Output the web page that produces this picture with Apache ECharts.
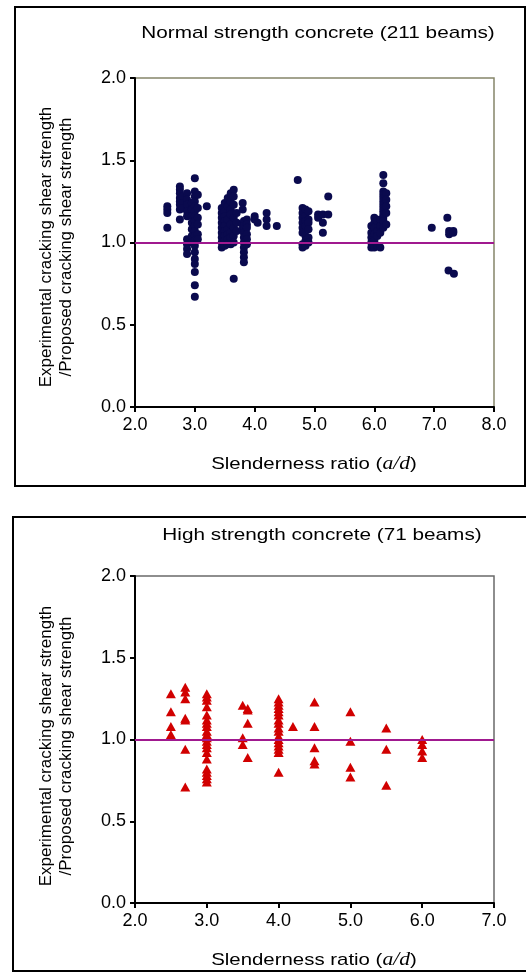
<!DOCTYPE html>
<html>
<head>
<meta charset="utf-8">
<script src="https://cdn.jsdelivr.net/npm/echarts@6/dist/echarts.min.js"></script>
<style>
  html, body { margin: 0; padding: 0; background: #fff; }
  #chart { width: 526px; height: 973px; }
</style>
</head>
<body>
<div id="chart"></div>
<script>
// 普通强度混凝土 (211 beams): a/d 位置 和 每列的比值
var normalRatio = [2.54, 2.75, 2.8, 2.87, 2.95, 3.0, 3.05, 3.2, 3.45, 3.5, 3.55, 3.6, 3.65, 3.7,
  3.8, 3.82, 3.87, 4.0, 4.05, 4.2, 4.37, 4.72, 4.8, 4.85, 4.9, 5.06, 5.14, 5.23,
  5.95, 6.0, 6.05, 6.1, 6.15, 6.2, 6.96, 7.22, 7.25, 7.32, 7.24, 7.33];
var normalValues = [
  [1.22, 1.20, 1.18, 1.09],
  [1.34, 1.32, 1.30, 1.27, 1.25, 1.23, 1.20, 1.14],
  [1.28, 1.24, 1.21],
  [1.30, 1.26, 1.23, 1.19, 1.16, 1.02, 0.99, 0.96, 0.93],
  [1.24, 1.20, 1.16, 1.12, 1.08, 1.04, 1.00],
  [1.39, 1.31, 1.28, 1.25, 1.22, 1.19, 1.16, 1.13, 1.10, 1.07, 1.04, 1.01, 0.98, 0.94, 0.90, 0.87, 0.82, 0.74, 0.67],
  [1.29, 1.21, 1.15, 1.11, 1.05, 1.02],
  [1.22],
  [1.21, 1.18, 1.15, 1.12, 1.09, 1.06, 1.03, 1.00, 0.97],
  [1.24, 1.19, 1.16, 1.13, 1.10, 1.07, 1.04, 1.01, 0.98],
  [1.27, 1.22, 1.14, 1.08, 1.05, 1.02, 0.99],
  [1.30, 1.25, 1.20, 1.17, 1.11, 1.06, 1.03, 0.99],
  [1.32, 1.28, 1.23, 1.15, 1.09, 1.04, 1.00, 0.78],
  [1.18, 1.12, 1.07],
  [1.24, 1.20, 1.11, 1.08],
  [1.13, 1.10, 1.06, 1.03, 1.00, 0.97, 0.94, 0.91, 0.88],
  [1.14, 1.11, 1.09, 1.05, 1.02, 0.99],
  [1.16, 1.14],
  [1.12],
  [1.18, 1.14, 1.10],
  [1.10],
  [1.38],
  [1.21, 1.18, 1.15, 1.12, 1.09, 1.06, 0.99, 0.97],
  [1.20, 1.16, 1.13, 1.10, 1.04, 1.01, 0.98],
  [1.19, 1.14, 1.12, 1.08, 1.03, 1.00],
  [1.17, 1.15],
  [1.17, 1.12, 1.06],
  [1.28, 1.17],
  [1.10, 1.06, 1.03, 1.00, 0.97],
  [1.15, 1.12, 1.09, 1.05, 1.01, 0.97],
  [1.13, 1.07, 1.04, 0.98],
  [1.14, 1.10, 1.06, 0.97],
  [1.41, 1.36, 1.31, 1.29, 1.27, 1.25, 1.23, 1.21, 1.19, 1.17, 1.15, 1.13, 1.09],
  [1.30, 1.26, 1.22, 1.18, 1.11],
  [1.09],
  [1.15],
  [1.07, 1.05],
  [1.07, 1.06],
  [0.83],
  [0.81]
];

// 高强度混凝土 (71 beams)
var highRatio = [2.5, 2.7, 3.0, 3.5, 3.57, 4.0, 4.2, 4.5, 5.0, 5.5, 6.0];
var highValues = [
  [1.28, 1.17, 1.08, 1.03],
  [1.32, 1.29, 1.25, 1.13, 1.12, 0.94, 0.71],
  [1.28, 1.26, 1.24, 1.20, 1.15, 1.12, 1.10, 1.08, 1.05, 1.03, 1.01, 0.99, 0.97, 0.95, 0.92, 0.88, 0.82, 0.80, 0.78, 0.76, 0.74],
  [1.21, 1.01, 0.97],
  [1.19, 1.18, 1.10, 0.89],
  [1.25, 1.23, 1.21, 1.19, 1.17, 1.15, 1.12, 1.10, 1.07, 1.05, 1.02, 1.00, 0.98, 0.96, 0.94, 0.92, 0.80],
  [1.08],
  [1.23, 1.08, 0.95, 0.87, 0.85],
  [1.17, 0.99, 0.83, 0.77],
  [1.07, 0.94, 0.72],
  [1.00, 0.97, 0.93, 0.89]
];

// 坐标轴刻度
var normalXTicks = [2, 3, 4, 5, 6, 7, 8];
var highXTicks = [2, 3, 4, 5, 6, 7];
var yTicks = [0, 0.5, 1.0, 1.5, 2.0];
var refLine = 1.0;

function toPoints(ratios, values) {
  var pts = [];
  ratios.forEach(function (r, i) {
    values[i].forEach(function (v) { pts.push([r, v]); });
  });
  return pts;
}

var vm = {};
vm.chart = echarts.init(document.getElementById('chart'));

var FONT = '"Liberation Sans", Arial, sans-serif';
var tickLabel = { color: '#000', fontSize: 18, fontFamily: FONT, formatter: function (v) { return v.toFixed(1); } };

function xAxisOf(idx, ticks) {
  return {
    gridIndex: idx, type: 'value',
    min: ticks[0], max: ticks[ticks.length - 1], interval: 1,
    axisLine: { onZero: false, lineStyle: { color: '#000', width: 2 } },
    axisTick: { length: 5, lineStyle: { color: '#000', width: 2 } },
    axisLabel: Object.assign({ margin: 9 }, tickLabel),
    splitLine: { show: false }
  };
}
function yAxisOf(idx) {
  return {
    gridIndex: idx, type: 'value',
    min: yTicks[0], max: yTicks[yTicks.length - 1], interval: 0.5,
    axisLine: { onZero: false, lineStyle: { color: '#000', width: 2 } },
    axisTick: { length: 5, lineStyle: { color: '#000', width: 2 } },
    axisLabel: Object.assign({ margin: 9 }, tickLabel),
    splitLine: { show: false }
  };
}
function yTitle(cy) {
  return {
    type: 'text', x: 56, y: cy, rotation: Math.PI / 2,
    style: {
      text: 'Experimental cracking shear strength\n/Proposed cracking shear strength',
      font: '17px ' + FONT, fill: '#000', align: 'center', verticalAlign: 'middle', lineHeight: 20
    }
  };
}
function xTitle(cy) {
  return {
    type: 'text', x: 314, y: cy, scaleX: 1.2,
    style: {
      text: '{n|Slenderness ratio (}{i|a/d}{n|)}',
      align: 'center', verticalAlign: 'middle', fill: '#000',
      rich: {
        n: { fontSize: 17, fontFamily: FONT, color: '#000' },
        i: { fontSize: 18, fontFamily: '"Liberation Serif", "Times New Roman", serif', fontStyle: 'italic', color: '#000' }
      }
    }
  };
}
function title(text, cx, cy) {
  return {
    type: 'text', x: cx, y: cy, scaleX: 1.22,
    style: { text: text, font: '17px ' + FONT, fill: '#000', align: 'center', verticalAlign: 'middle' }
  };
}

var option = {
  animation: false,
  backgroundColor: '#fff',
  grid: [
    { left: 135, top: 78, width: 359, height: 329, show: true, borderColor: '#85856a', borderWidth: 1.5, backgroundColor: 'transparent' },
    { left: 135, top: 576, width: 359, height: 327, show: true, borderColor: '#6a6a6a', borderWidth: 1.5, backgroundColor: 'transparent' }
  ],
  xAxis: [xAxisOf(0, normalXTicks), xAxisOf(1, highXTicks)],
  yAxis: [yAxisOf(0), yAxisOf(1)],
  graphic: [
    { type: 'rect', shape: { x: 15, y: 7, width: 510, height: 479 }, style: { fill: 'none', stroke: '#000', lineWidth: 2 } },
    { type: 'rect', shape: { x: 13, y: 517, width: 514, height: 454 }, style: { fill: 'none', stroke: '#000', lineWidth: 2 } },
    title('Normal strength concrete (211 beams)', 318, 33),
    title('High strength concrete (71 beams)', 322, 535),
    yTitle(247), yTitle(746),
    xTitle(464), xTitle(960)
  ],
  series: [
    {
      name: 'Normal strength concrete', type: 'scatter', xAxisIndex: 0, yAxisIndex: 0,
      symbol: 'circle', symbolSize: 8,
      itemStyle: { color: '#0a0a4e', opacity: 1 },
      data: toPoints(normalRatio, normalValues),
      markLine: {
        silent: true, symbol: 'none', label: { show: false },
        lineStyle: { color: '#a0198f', width: 2, type: 'solid' },
        data: [{ yAxis: refLine }]
      },
      z: 3
    },
    {
      name: 'High strength concrete', type: 'scatter', xAxisIndex: 1, yAxisIndex: 1,
      symbol: 'triangle', symbolSize: [10, 9],
      itemStyle: { color: '#d10000', opacity: 1 },
      data: toPoints(highRatio, highValues),
      markLine: {
        silent: true, symbol: 'none', label: { show: false },
        lineStyle: { color: '#a0198f', width: 2, type: 'solid' },
        data: [{ yAxis: refLine }]
      },
      z: 3
    }
  ]
};

vm.chart.setOption(option);
</script>
</body>
</html>
